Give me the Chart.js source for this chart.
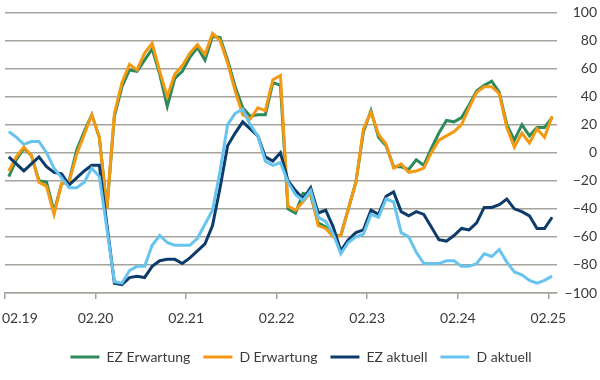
<!DOCTYPE html>
<html><head><meta charset="utf-8">
<script src="https://cdn.jsdelivr.net/npm/chart.js@4"></script>
<style>html,body{margin:0;padding:0;background:#fff}#wrap{width:600px;height:380px}</style>
</head><body><div id="wrap"><canvas id="c" width="600" height="380"></canvas></div>
<script>
// Tick labels on the x axis (month offsets from Feb 2019)
const tickLabels = ['02.19','02.20','02.21','02.22','02.23','02.24','02.25'];
const tickMonths = [0, 12, 24, 36, 48, 60, 72];

// Monthly categories 02.19 ... 02.25
const categories = [];
for (let k = 0; k < 73; k++) {
  const m = (1 + k) % 12 + 1, y = 19 + Math.floor((1 + k) / 12);
  categories.push(String(m).padStart(2, '0') + '.' + y);
}

const ezErwartung = [-17,-5,3,-2,-20,-21,-42,-22,-20,2,15,27,11,
  -40,26,47,59,58,66,74,56,33,53,58,68,
  75,66,83,82,66,47,32,26,27,27,50,48,
  -40,-43,-29,-30,-50,-53,-59,-59,-40,-21,15,30,
  11,5,-10,-10,-12,-5,-9,3,14,23,22,25,
  34,44,48,51,43,20,9,20,12,18,18,25];
const dErwartung = [-13,-3,4,-2,-21,-24,-44,-22,-21,-1,13,27,11,
  -40,28,50,63,59,71,78,58,40,56,62,71,
  77,70,85,80,64,44,27,24,32,30,52,55,
  -38,-41,-35,-28,-52,-54,-60,-59,-40,-21,17,29,
  13,6,-11,-8,-14,-13,-11,0,9,12,15,20,
  32,43,47,47,42,18,4,14,7,17,11,26];
const ezAktuell = [-3,-8,-13,-8,-3,-10,-14,-15,-23,-18,-13,-9,-9,
  -51,-93,-94,-89,-88,-89,-81,-77,-76,-76,-79,-75,
  -70,-65,-52,-25,5,14,22,17,12,-3,-6,0,
  -20,-27,-33,-25,-43,-41,-53,-70,-62,-57,-55,-41,
  -44,-31,-28,-42,-45,-42,-44,-53,-62,-63,-59,-54,
  -55,-50,-39,-39,-37,-33,-40,-42,-45,-54,-54,-46];
const dAktuell = [15,11,6,8,8,0,-11,-18,-25,-25,-21,-11,-17,
  -54,-92,-93,-84,-81,-81,-66,-59,-64,-66,-66,-66,
  -61,-51,-41,-13,20,28,31,20,12,-6,-9,-7,
  -21,-30,-34,-27,-46,-49,-58,-72,-64,-60,-58,-44,
  -46,-33,-35,-57,-60,-71,-79,-79,-79,-77,-77,-81,
  -81,-79,-72,-74,-69,-78,-85,-87,-91,-93,-91,-88];

const yTicks = [-100,-80,-60,-40,-20,0,20,40,60,80,100];

const toPts = arr => arr.map((v, i) => ({x: i + 0.5, y: v, c: categories[i]}));
const GRID = '#a5a39c';
const TXT = '#3a3a3a';
const FONT = {family: 'Lato', size: 14};

const firstLabelShift = {
  id: 'firstLabelShift',
  beforeDraw(chart) {
    const s = chart.scales.x;
    const items = s.getLabelItems(chart.chartArea);
    if (items && items.length && !items[0]._shifted) {
      items[0].options.textAlign = 'left';
      items[0].options.translation[0] = 2;
      items[0]._shifted = true;
    }
  }
};

const mk = (label, data, color, order) => ({
  label, data: toPts(data), borderColor: color, backgroundColor: color,
  borderWidth: 3, pointRadius: 0, pointHoverRadius: 0, tension: 0, fill: false, order
});

new Chart(document.getElementById('c'), {
  type: 'line',
  data: {
    datasets: [
      mk('EZ Erwartung', ezErwartung, '#2e8a5b', 4),
      mk('D Erwartung', dErwartung, '#f39a12', 3),
      mk('EZ aktuell', ezAktuell, '#0d3c6a', 2),
      mk('D aktuell', dAktuell, '#66c4ef', 1)
    ]
  },
  options: {
    responsive: false,
    animation: false,
    events: [],
    layout: {padding: {left: 5, right: 3, top: 0, bottom: 6}},
    plugins: {
      tooltip: {enabled: false},
      legend: {
        position: 'bottom',
        labels: {
          font: FONT, color: TXT, usePointStyle: true, pointStyle: 'line',
          pointStyleWidth: 29, boxHeight: 14, padding: 13,
          sort: (a, b) => a.datasetIndex - b.datasetIndex
        }
      }
    },
    scales: {
      x: {
        type: 'linear', min: 0, max: 73.15,
        afterBuildTicks: s => { s.ticks = tickMonths.map(v => ({value: v})); },
        afterFit: s => { s.paddingLeft = 0; s.paddingRight = 0; s.height = 44; },
        ticks: {
          autoSkip: false, maxRotation: 0, font: FONT, color: TXT, padding: 11,
          callback: v => tickLabels[tickMonths.indexOf(v)]
        },
        grid: {drawOnChartArea: false, drawTicks: true, tickLength: 6, color: GRID, lineWidth: 1.5},
        border: {display: true, color: GRID, width: 1.5}
      },
      y: {
        position: 'right', min: -100, max: 100,
        afterBuildTicks: s => { s.ticks = yTicks.map(v => ({value: v})); },
        afterFit: s => { s.width = 40; },
        ticks: {
          font: FONT, color: TXT, crossAlign: 'far', padding: 4,
          callback: v => v < 0 ? '\u2212' + Math.abs(v) : String(v)
        },
        grid: {drawTicks: false, color: GRID, lineWidth: 1.5},
        border: {display: false}
      }
    }
  },
  plugins: [firstLabelShift]
});
</script></body></html>
